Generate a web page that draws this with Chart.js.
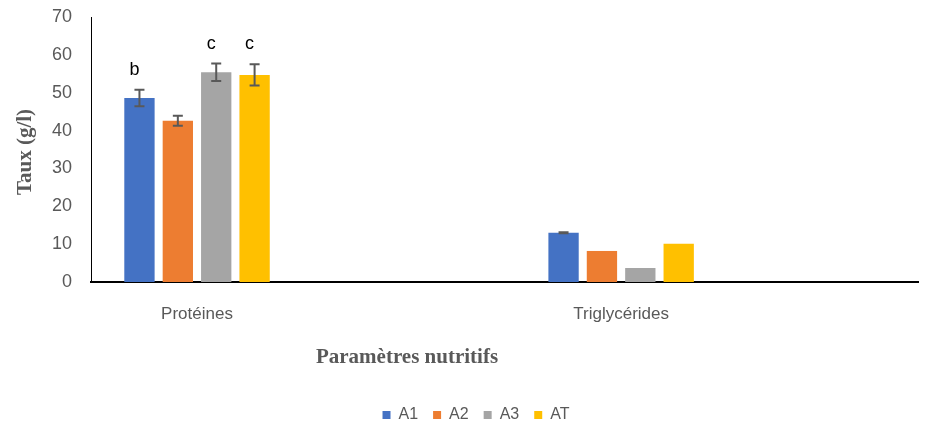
<!DOCTYPE html>
<html>
<head>
<meta charset="utf-8">
<script src="https://cdn.jsdelivr.net/npm/chart.js@4"></script>
<style>
  body { margin: 0; background: #fff; }
  #wrap { width: 932px; height: 424px; }
</style>
</head>
<body>
<div id="wrap"><canvas id="chart" width="932" height="424"></canvas></div>
<script>
const categories = ["Protéines", "Triglycérides"];
const seriesNames = ["A1", "A2", "A3", "AT"];
const seriesColors = ["#4472C4", "#ED7D31", "#A5A5A5", "#FFC000"];

const a1 = [48.6, 13.0];
const a2 = [42.6, 8.2];
const a3 = [55.4, 3.7];
const at = [54.7, 10.1];

// error bars (0 = none)
const a1Err = [2.2, 0.15];
const a2Err = [1.3, 0];
const a3Err = [2.3, 0];
const atErr = [2.8, 0];

// significance letters above bars
const a1Letters = ["b", ""];
const a2Letters = ["", ""];
const a3Letters = ["c", ""];
const atLetters = ["c", ""];

const yTicks = [0, 10, 20, 30, 40, 50, 60, 70];
const yTitle = "Taux (g/l)";
const xTitle = "Paramètres nutritifs";

const values = [a1, a2, a3, at];
const errors = [a1Err, a2Err, a3Err, atErr];
const letters = [a1Letters, a2Letters, a3Letters, atLetters];

const grey = "#595959";

const datasets = seriesNames.map((name, i) => ({
    label: name,
    data: values[i].map((v, j) => ({ x: j, y: v })),
    backgroundColor: seriesColors[i],
    borderWidth: 0,
    categoryPercentage: 0.362,
    barPercentage: 0.79,
}));

// error bars + letters
const extrasPlugin = {
    id: "extras",
    afterDatasetsDraw(chart) {
        const ctx = chart.ctx;
        const yScale = chart.scales.y;
        ctx.save();
        chart.data.datasets.forEach((ds, i) => {
            const meta = chart.getDatasetMeta(i);
            meta.data.forEach((bar, j) => {
                const v = values[i][j];
                const e = errors[i][j];
                let top = yScale.getPixelForValue(v);
                if (e > 0) {
                    top = yScale.getPixelForValue(v + e);
                    const bot = yScale.getPixelForValue(v - e);
                    ctx.strokeStyle = grey;
                    ctx.lineWidth = 2;
                    ctx.beginPath();
                    ctx.moveTo(bar.x, top);
                    ctx.lineTo(bar.x, bot);
                    ctx.moveTo(bar.x - 5, top);
                    ctx.lineTo(bar.x + 5, top);
                    ctx.moveTo(bar.x - 5, bot);
                    ctx.lineTo(bar.x + 5, bot);
                    ctx.stroke();
                }
                const t = letters[i][j];
                if (t) {
                    ctx.fillStyle = "#000";
                    ctx.font = "18px 'Liberation Sans'";
                    ctx.textAlign = "center";
                    ctx.textBaseline = "alphabetic";
                    ctx.fillText(t, bar.x - 5, top - 15);
                }
            });
        });
        ctx.restore();
    },
    afterDraw(chart) {
        const ctx = chart.ctx;
        ctx.save();
        ctx.fillStyle = grey;
        ctx.font = "bold 21px 'Liberation Serif'";
        ctx.textAlign = "center";
        ctx.textBaseline = "middle";
        ctx.fillText(xTitle, 407, 358);
        ctx.translate(26, 152);
        ctx.rotate(-Math.PI / 2);
        ctx.fillText(yTitle, 0, 0);
        ctx.restore();
    },
};

new Chart(document.getElementById("chart"), {
    type: "bar",
    data: { datasets: datasets },
    plugins: [extrasPlugin],
    options: {
        responsive: false,
        animation: false,
        layout: { padding: { left: 34, right: 14, top: 17, bottom: -9 } },
        plugins: {
            tooltip: { enabled: false },
            legend: {
                position: "bottom",
                labels: {
                    boxWidth: 8,
                    boxHeight: 8,
                    padding: 15,
                    color: grey,
                    font: { family: "'Liberation Sans'", size: 16 },
                },
            },
        },
        scales: {
            x: {
                type: "linear",
                min: -0.25,
                max: 1.7,
                offset: false,
                grid: { display: false, drawTicks: false, offset: false },
                border: { color: "#000", width: 2 },
                afterBuildTicks: (scale) => {
                    scale.ticks = categories.map((c, i) => ({ value: i }));
                },
                afterFit: (scale) => { scale.height = 110; },
                ticks: {
                    padding: 22,
                    color: grey,
                    font: { family: "'Liberation Sans'", size: 17 },
                    callback: (v) => categories[v],
                },
            },
            y: {
                min: 0,
                max: 70,
                grid: { display: false, drawTicks: false },
                border: { color: "#000", width: 1 },
                afterBuildTicks: (scale) => {
                    scale.ticks = yTicks.map((t) => ({ value: t }));
                },
                afterFit: (scale) => {
                    scale.width = 57;
                    scale.paddingTop = 11;
                    scale.paddingBottom = 11;
                },
                ticks: {
                    padding: 19,
                    color: grey,
                    font: { family: "'Liberation Sans'", size: 18 },
                },
            },
        },
    },
});
</script>
</body>
</html>
